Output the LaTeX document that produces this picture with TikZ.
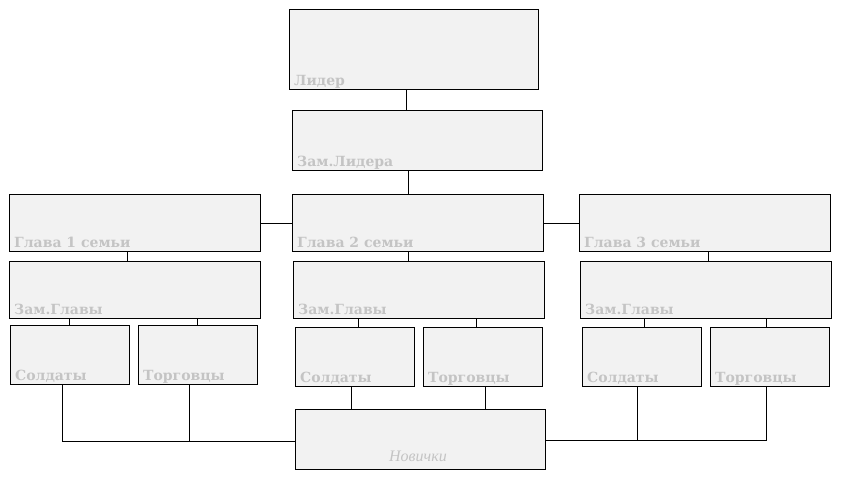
\documentclass[tikz,border=0pt]{standalone}
\usepackage{fontspec}
\newfontfamily\lblfont{DejaVu Serif}
\newfontfamily\itfont{Liberation Serif}
\definecolor{boxfill}{HTML}{F2F2F2}
\definecolor{lblgray}{HTML}{C4C4C4}
\begin{document}
\begin{tikzpicture}[x=1pt,y=-1pt,
  box/.style={draw=black,line width=1pt,fill=boxfill,inner sep=0pt,outer sep=0pt,anchor=north west},
  lbl/.style={anchor=base west,inner sep=0pt,text=lblgray,font=\lblfont\bfseries\fontsize{14}{16}\selectfont},
  conn/.style={draw=black,line width=1pt}]
\useasboundingbox[fill=white] (0,0) rectangle (847,478);
\newcommand{\mybox}[6]{%
  \node[box,minimum width={#4-#2},minimum height={#5-#3}] (#1) at (#2,#3) {};
  \node[lbl] (#1lbl) at ([xshift=5pt,yshift=4pt]#1.south west) {#6};}
\mybox{L}{289}{10}{538}{90}{Лидер}
\mybox{ZL}{292}{111}{542}{171}{Зам.Лидера}
\mybox{G1}{9}{195}{260}{252}{Глава 1 семьи}
\mybox{G2}{292}{195}{543}{252}{Глава 2 семьи}
\mybox{G3}{579}{195}{830}{252}{Глава 3 семьи}
\mybox{Z1}{9}{262}{260}{319}{Зам.Главы}
\mybox{Z2}{293}{262}{544}{319}{Зам.Главы}
\mybox{Z3}{580}{262}{831}{319}{Зам.Главы}
\mybox{S1}{10}{326}{129}{385}{Солдаты}
\mybox{T1}{138}{326}{257}{385}{Торговцы}
\mybox{S2}{295}{328}{414}{387}{Солдаты}
\mybox{T2}{423}{328}{542}{387}{Торговцы}
\mybox{S3}{582}{328}{701}{387}{Солдаты}
\mybox{T3}{710}{328}{829}{387}{Торговцы}
\node[box,minimum width=250,minimum height=60] (N) at (295,410) {};
\node[anchor=base,inner sep=0pt,text=lblgray,font=\itfont\itshape\fontsize{16}{18}\selectfont] (Nlbl) at ([xshift=-2pt,yshift=8pt]N.south) {Новички};
% connectors
\draw[conn] (406,0 |- L.south) -- (406,0 |- ZL.north);
\draw[conn] (408,0 |- ZL.south) -- (408,0 |- G2.north);
\draw[conn] (G1.east) -- (G2.west);
\draw[conn] (G2.east) -- (G3.west);
\draw[conn] (127,0 |- G1.south) -- (127,0 |- Z1.north);
\draw[conn] (408,0 |- G2.south) -- (408,0 |- Z2.north);
\draw[conn] (708,0 |- G3.south) -- (708,0 |- Z3.north);
\draw[conn] (69,0 |- Z1.south) -- (69,0 |- S1.north);
\draw[conn] (197,0 |- Z1.south) -- (197,0 |- T1.north);
\draw[conn] (358,0 |- Z2.south) -- (358,0 |- S2.north);
\draw[conn] (476,0 |- Z2.south) -- (476,0 |- T2.north);
\draw[conn] (644,0 |- Z3.south) -- (644,0 |- S3.north);
\draw[conn] (766,0 |- Z3.south) -- (766,0 |- T3.north);
\draw[conn] (351,0 |- S2.south) -- (351,0 |- N.north);
\draw[conn] (485,0 |- T2.south) -- (485,0 |- N.north);
\draw[conn] (62,0 |- S1.south) -- (62,442) -- (N.west |- 0,442);
\draw[conn] (189,0 |- T1.south) -- (189,442);
\draw[conn] (N.east |- 0,441) -- (766,441) -- (766,0 |- T3.south);
\draw[conn] (637,0 |- S3.south) -- (637,441);
\end{tikzpicture}
\end{document}
